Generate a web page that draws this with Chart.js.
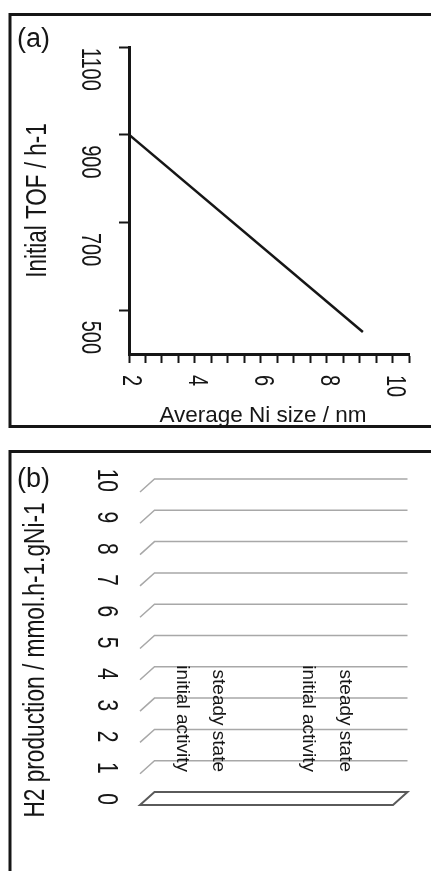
<!DOCTYPE html>
<html>
<head>
<meta charset="utf-8">
<script src="https://cdn.jsdelivr.net/npm/chart.js"></script>
<style>
  html, body { margin: 0; padding: 0; background: #fff; }
  body { width: 431px; height: 871px; position: relative; overflow: hidden; }
  canvas { position: absolute; left: 0; }
  #tofChart { top: 0; }
  #h2Chart { top: 440px; }
</style>
</head>
<body>
<canvas id="tofChart" width="431" height="440"></canvas>
<canvas id="h2Chart" width="431" height="431"></canvas>
<script>
// panel (a): initial TOF vs Ni size
const sizeNm     = [2, 9.1];
const initialTof = [1000, 550];
const tofTicks   = [500, 700, 900, 1100];
const sizeTicks  = [2, 4, 6, 8, 10];

// panel (b): H2 production (no bars drawn, all zero)
const catalysts       = ['catalyst 1', 'catalyst 2'];
const seriesNames     = ['initial activity', 'steady state'];
const initialActivity = [0, 0];
const steadyState     = [0, 0];
const h2Ticks         = [0, 1, 2, 3, 4, 5, 6, 7, 8, 9, 10];

const FONT = '"Liberation Sans", Arial, sans-serif';
const INK = '#161616';

// dir 1 = reads top to bottom, -1 = bottom to top
function rotText(ctx, text, x, y, size, stretch, dir, align) {
  ctx.save();
  ctx.translate(x, y);
  ctx.rotate(dir * Math.PI / 2);
  ctx.scale(1, stretch);
  ctx.font = size + 'px ' + FONT;
  ctx.fillStyle = INK;
  ctx.textAlign = align;
  ctx.textBaseline = 'middle';
  ctx.fillText(text, 0, 0);
  ctx.restore();
}

function flatText(ctx, text, x, y, size, align) {
  ctx.save();
  ctx.font = size + 'px ' + FONT;
  ctx.fillStyle = INK;
  ctx.textAlign = align;
  ctx.textBaseline = 'alphabetic';
  ctx.fillText(text, x, y);
  ctx.restore();
}

const panelA = {
  id: 'panelA',
  beforeDraw(chart) {
    const ctx = chart.ctx;
    ctx.save();
    ctx.strokeStyle = INK;
    ctx.lineWidth = 3;
    ctx.strokeRect(10, 14.5, 440, 412);
    ctx.restore();
  },
  afterDraw(chart) {
    const ctx = chart.ctx;
    const x = chart.scales.x, y = chart.scales.y;
    flatText(ctx, '(a)', 17, 47, 27, 'left');
    tofTicks.forEach(v => rotText(ctx, String(v), 89.5, y.getPixelForValue(v), 20, 1.4, 1, 'right'));
    sizeTicks.forEach(v => rotText(ctx, String(v), x.getPixelForValue(v) + 2, x.bottom + 12, 20, 1.4, 1, 'left'));
    rotText(ctx, 'Initial TOF / h-1', 38, (chart.chartArea.top + chart.chartArea.bottom) / 2, 22.5, 1.3, -1, 'center');
    flatText(ctx, 'Average Ni size / nm', 263, 422, 22.5, 'center');
  }
};

new Chart(document.getElementById('tofChart'), {
  type: 'line',
  data: {
    datasets: [{
      data: sizeNm.map((s, i) => ({ x: s, y: initialTof[i] })),
      borderColor: INK,
      borderWidth: 2.5,
      pointRadius: 0,
      fill: false
    }]
  },
  options: {
    responsive: false,
    animation: false,
    layout: { padding: { left: 119, right: 22, top: 47, bottom: 77 } },
    plugins: { legend: { display: false }, tooltip: { enabled: false } },
    scales: {
      x: {
        type: 'linear',
        min: 2,
        max: 10.5,
        ticks: { stepSize: 0.5, display: false },
        grid: { drawOnChartArea: false, drawTicks: true, tickLength: 9, tickColor: INK, tickWidth: 2 },
        border: { display: true, color: INK, width: 3 }
      },
      y: {
        min: 500,
        max: 1200,
        ticks: { stepSize: 200, display: false, includeBounds: false },
        grid: { drawOnChartArea: false, drawTicks: true, tickLength: 10, tickColor: INK, tickWidth: 2 },
        border: { display: true, color: INK, width: 3 }
      }
    }
  },
  plugins: [panelA]
});

// depth of the pseudo 3D box
const DX = 14.5, DY = 13;

const panelB = {
  id: 'panelB',
  beforeDraw(chart) {
    const ctx = chart.ctx;
    const y = chart.scales.y;
    const { left, right } = chart.chartArea;
    ctx.save();
    ctx.strokeStyle = INK;
    ctx.lineWidth = 3;
    ctx.strokeRect(10, 11.5, 440, 440);

    // back wall grid lines with side stubs
    ctx.strokeStyle = '#a8a8a8';
    ctx.lineWidth = 1.5;
    h2Ticks.filter(v => v > 0).forEach(v => {
      const py = y.getPixelForValue(v);
      ctx.beginPath();
      ctx.moveTo(left, py);
      ctx.lineTo(left + DX, py - DY);
      ctx.lineTo(right + DX, py - DY);
      ctx.stroke();
    });

    // floor
    const py0 = y.getPixelForValue(0);
    ctx.strokeStyle = '#5a5a5a';
    ctx.lineWidth = 2;
    ctx.beginPath();
    ctx.moveTo(left, py0);
    ctx.lineTo(left + DX, py0 - DY);
    ctx.lineTo(right + DX, py0 - DY);
    ctx.lineTo(right, py0);
    ctx.closePath();
    ctx.stroke();
    ctx.restore();
  },
  afterDraw(chart) {
    const ctx = chart.ctx;
    const y = chart.scales.y;
    flatText(ctx, '(b)', 17, 47, 27, 'left');
    h2Ticks.forEach(v => rotText(ctx, String(v), 106, y.getPixelForValue(v), 21, 1.4, 1, 'right'));
    rotText(ctx, 'H2 production / mmol.h-1.gNi-1', 36, 220, 22.7, 1.3, -1, 'center');
    const yEnd = y.getPixelForValue(0) - 33;
    chart.data.datasets.forEach((ds, i) => {
      chart.getDatasetMeta(i).data.forEach(bar => {
        rotText(ctx, ds.label, bar.x - 3, yEnd, 19, 1, 1, 'right');
      });
    });
  }
};

new Chart(document.getElementById('h2Chart'), {
  type: 'bar',
  data: {
    labels: catalysts,
    datasets: [
      { label: seriesNames[0], data: initialActivity, backgroundColor: '#888', borderWidth: 0 },
      { label: seriesNames[1], data: steadyState, backgroundColor: '#ccc', borderWidth: 0 }
    ]
  },
  options: {
    responsive: false,
    animation: false,
    layout: { padding: { left: 140, right: 38, top: 52, bottom: 66 } },
    categoryPercentage: 0.57,
    barPercentage: 0.8,
    plugins: { legend: { display: false }, tooltip: { enabled: false } },
    scales: {
      x: { display: false },
      y: { display: false, min: 0, max: 10, ticks: { stepSize: 1 } }
    }
  },
  plugins: [panelB]
});
</script>
</body>
</html>
